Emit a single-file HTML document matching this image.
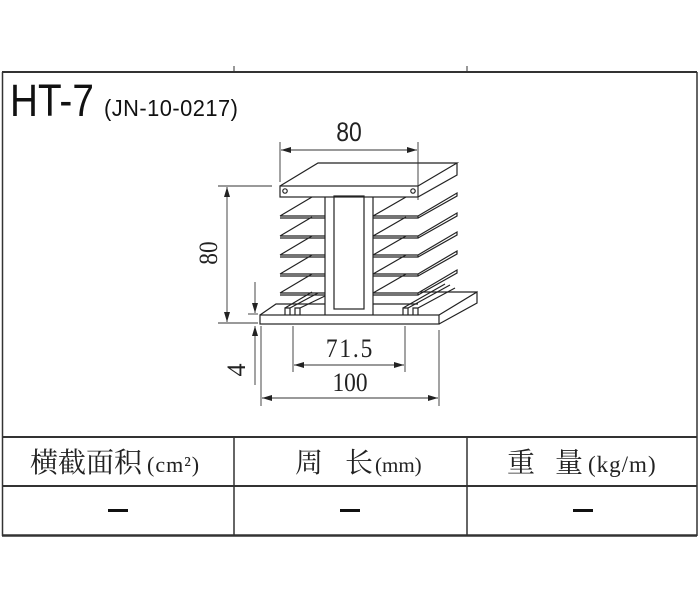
<!DOCTYPE html>
<html><head><meta charset="utf-8"><style>
html,body{margin:0;padding:0;background:#fff;}
svg{display:block;}
</style></head><body>
<svg width="700" height="605" viewBox="0 0 700 605" xmlns="http://www.w3.org/2000/svg">
<defs>
<marker id="a" viewBox="0 0 10 6" refX="10" refY="3" markerWidth="10" markerHeight="6" orient="auto-start-reverse" markerUnits="userSpaceOnUse"><path d="M0,0 L10,3 L0,6 z" fill="#222"/></marker>
</defs>
<g stroke="#333" fill="none">
<line x1="2" y1="72" x2="697" y2="72" stroke-width="2"/>
<line x1="234" y1="66" x2="234" y2="72" stroke-width="1"/>
<line x1="467" y1="66" x2="467" y2="72" stroke-width="1"/>
<line x1="2.5" y1="72" x2="2.5" y2="536" stroke-width="1.5"/>
<line x1="697" y1="72" x2="697" y2="536" stroke-width="1.5"/>
<line x1="2" y1="437" x2="697" y2="437" stroke-width="2"/>
<line x1="2" y1="486" x2="697" y2="486" stroke-width="2"/>
<line x1="2" y1="535.5" x2="697" y2="535.5" stroke-width="2.5"/>
<line x1="234" y1="437" x2="234" y2="536" stroke-width="1.5"/>
<line x1="467" y1="437" x2="467" y2="536" stroke-width="1.5"/>
</g>
<g stroke="#222" fill="none" stroke-width="1.2">
<rect x="280" y="186" width="138" height="11"/>
<path d="M280,186 L318,163 L457,163 L418,186 M457,163 L457,175 L418,197"/>
<circle cx="285" cy="191" r="2.2"/><circle cx="413" cy="191" r="2.2"/>
<path d="M325,197 L325,315 M373,197 L373,315"/>
<rect x="334" y="196" width="30" height="113"/>
<path d="M280,216 L325,216 M280,218 L325,218 M280,216 L312,197"/>
<path d="M280,236 L325,236 M280,238 L325,238 M280,236 L312,217"/>
<path d="M280,255 L325,255 M280,257 L325,257 M280,255 L312,236"/>
<path d="M280,274 L325,274 M280,276 L325,276 M280,274 L312,255"/>
<path d="M280,293 L325,293 M280,295 L325,295 M280,293 L312,274"/>
<path d="M373,216 L418,216 L418,218 L373,218 M418,216 L457,193 L457,196 L418,218 M373,216 L406,197"/>
<path d="M373,236 L418,236 L418,238 L373,238 M418,236 L457,213 L457,216 L418,238 M373,236 L406,217"/>
<path d="M373,255 L418,255 L418,257 L373,257 M418,255 L457,232 L457,235 L418,257 M373,255 L406,236"/>
<path d="M373,274 L418,274 L418,276 L373,276 M418,274 L457,251 L457,254 L418,276 M373,274 L406,255"/>
<path d="M373,293 L418,293 L418,295 L373,295 M418,293 L457,270 L457,273 L418,295 M373,293 L406,274"/>
<rect x="260" y="315" width="179" height="9"/>
<path d="M260,315 L276,304 L325,304 M439,315 L477,292 L477,303 L439,324 M373,304 L418,304 M420,292 L477,292"/>
<path d="M285,315 L285,308 L290,308 L290,315 M295,315 L295,308 L300,308 L300,315 M290,308 L318,293 M300,308 L325,296 M285,308 L312,292"/>
<path d="M403,315 L403,308 L408,308 L408,315 M413,315 L413,308 L418,308 L418,315 M408,308 L450,285 M418,308 L455,288 M403,308 L445,284"/>
</g>
<g stroke="#333" stroke-width="0.9" fill="none">
<line x1="280" y1="142" x2="280" y2="182"/><line x1="418" y1="142" x2="418" y2="200"/>
<line x1="281" y1="150" x2="417" y2="150" marker-start="url(#a)" marker-end="url(#a)"/>
<line x1="218" y1="186" x2="272" y2="186"/><line x1="218" y1="323" x2="258" y2="323"/>
<line x1="227" y1="187" x2="227" y2="322" marker-start="url(#a)" marker-end="url(#a)"/>
<line x1="255" y1="282" x2="255" y2="313" marker-end="url(#a)"/>
<line x1="255" y1="385" x2="255" y2="326" marker-end="url(#a)"/>
<line x1="248" y1="314" x2="258" y2="314"/>
<line x1="293" y1="326" x2="293" y2="372"/><line x1="405" y1="326" x2="405" y2="372"/>
<line x1="294" y1="365" x2="404" y2="365" marker-start="url(#a)" marker-end="url(#a)"/>
<line x1="261" y1="326" x2="261" y2="406"/><line x1="439" y1="330" x2="439" y2="406"/>
<line x1="262" y1="398" x2="438" y2="398" marker-start="url(#a)" marker-end="url(#a)"/>
</g>
<g fill="#222" font-family="Liberation Serif, serif">
<text transform="translate(349,141) scale(0.85,1)" font-size="27" text-anchor="middle" font-family="Liberation Sans, sans-serif">80</text>
<text font-size="26" text-anchor="middle" transform="translate(217,253) rotate(-90) scale(0.9,1)">80</text>
<text font-size="26" text-anchor="middle" transform="translate(245,370) rotate(-90)">4</text>
<text font-size="26" text-anchor="middle" transform="translate(350,357) scale(0.9,1)" letter-spacing="2">71.5</text>
<text font-size="26" text-anchor="middle" transform="translate(350,391) scale(0.9,1)">100</text>
</g>
<text transform="translate(10,116) scale(0.86,1)" font-size="45" fill="#111" font-family="Liberation Sans, sans-serif">HT-7</text>
<text transform="translate(104,116) scale(0.95,1)" font-size="23" fill="#111" font-family="Liberation Sans, sans-serif" letter-spacing="0.5">(JN-10-0217)</text>
<g font-family="Liberation Serif, Noto Serif CJK SC, serif" fill="#222">
<text x="30" y="472" font-size="28">横截面积</text>
<text x="147" y="472" font-size="22" letter-spacing="1">(cm²)</text>
<text x="295" y="472" font-size="28">周</text>
<text x="345" y="472" font-size="28">长</text>
<text x="375" y="472" font-size="21">(mm)</text>
<text x="507" y="472" font-size="28">重</text>
<text x="555" y="472" font-size="28">量</text>
<text x="588" y="472" font-size="23" letter-spacing="1">(kg/m)</text>
</g>
<g fill="#111">
<rect x="108" y="509" width="20" height="3"/>
<rect x="340" y="509" width="20" height="3"/>
<rect x="573" y="509" width="20" height="3"/>
</g>
</svg>
</body></html>
